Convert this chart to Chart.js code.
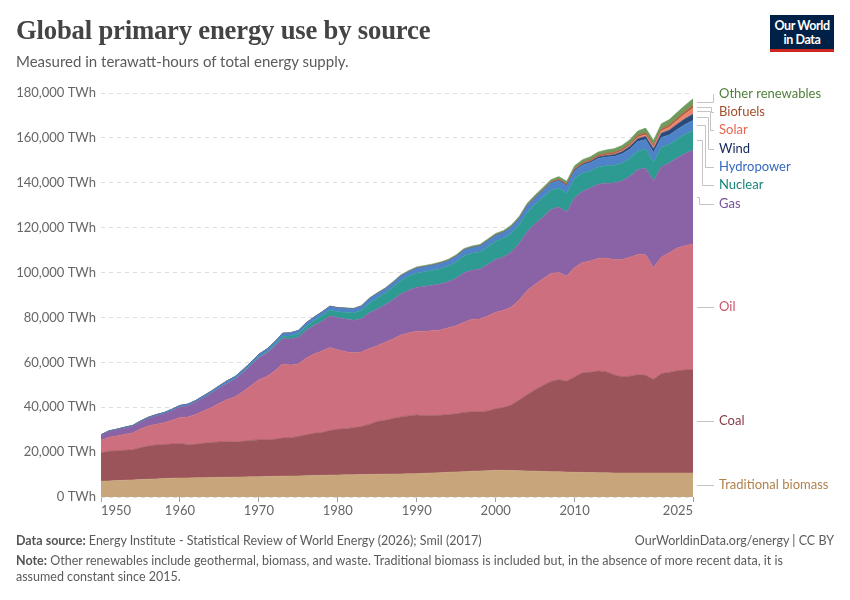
<!DOCTYPE html>
<html>
<head>
<meta charset="utf-8">
<script src="https://cdn.jsdelivr.net/npm/chart.js@4.4.1/dist/chart.umd.min.js"></script>
<style>
  html,body{margin:0;padding:0;background:#fff;}
  #wrap{position:relative;width:850px;height:600px;overflow:hidden;font-family:Lato,"Noto Sans",sans-serif;}
  canvas{position:absolute;left:0;top:0;}
  #title{position:absolute;left:16px;top:14px;font-family:"Liberation Serif",serif;font-weight:bold;font-size:26.7px;line-height:32px;color:#444;letter-spacing:-0.2px;}
  #subtitle{position:absolute;left:16px;top:51px;font-size:15px;line-height:20px;color:#5b5b5b;}
  #logo{position:absolute;left:770px;top:15px;width:64px;height:30px;background:#002147;border-bottom:3px solid #ce261e;color:#fff;text-align:center;font-size:12.5px;line-height:14px;font-weight:bold;padding-top:4px;box-sizing:content-box;}
  #logo div{letter-spacing:-0.4px;}
  .foot{position:absolute;font-size:12.5px;line-height:16px;color:#5b5b5b;}
  .foot b{font-weight:bold;color:#555;}
</style>
</head>
<body>
<div id="wrap">
  <canvas id="c" width="850" height="600"></canvas>
  <div id="title">Global primary energy use by source</div>
  <div id="subtitle">Measured in terawatt-hours of total energy supply.</div>
  <div id="logo"><div>Our World</div><div>in Data</div></div>
  <div class="foot" style="left:16px;top:533px;"><b>Data source:</b> Energy Institute - Statistical Review of World Energy (2026); Smil (2017)</div>
  <div class="foot" style="right:16px;top:533px;">OurWorldinData.org/energy | CC BY</div>
  <div class="foot" style="left:16px;top:553px;width:830px;"><b>Note:</b> Other renewables include geothermal, biomass, and waste. Traditional biomass is included but, in the absence of more recent data, it is<br>assumed constant since 2015.</div>
</div>
<script>
// ---------------- DATA (TWh), years 1950..2025 ----------------
const years = [];
for (let y = 1950; y <= 2025; y++) years.push(y);

const xTickYears = [1950, 1960, 1970, 1980, 1990, 2000, 2010, 2025];
const yTickValues = [0, 20000, 40000, 60000, 80000, 100000, 120000, 140000, 160000, 180000];

const traditionalBiomass = [
  7000, 7150, 7300, 7450, 7600, 7750, 7900, 8050, 8200, 8350,
  8450, 8500, 8560, 8620, 8680, 8740, 8800, 8860, 8920, 8980,
  9050, 9120, 9190, 9260, 9330, 9400, 9480, 9560, 9640, 9720,
  9800, 9860, 9920, 9980, 10040, 10100, 10160, 10220, 10280, 10340,
  10400, 10550, 10700, 10850, 11000, 11150, 11300, 11450, 11600, 11750,
  11900, 11850, 11800, 11700, 11600, 11500, 11400, 11300, 11200, 11100,
  11000, 10940, 10880, 10820, 10760, 10700, 10700, 10700, 10700, 10700,
  10700, 10700, 10700, 10700, 10700, 10700
];
const coal = [
  12600, 13200, 13200, 13400, 13400, 14200, 14800, 15100, 15200, 15300,
  15400, 14800, 14900, 15300, 15600, 15800, 15900, 15600, 15900, 16200,
  16400, 16300, 16500, 17000, 17000, 17600, 18200, 18800, 19100, 19900,
  20400, 20600, 20900, 21400, 22300, 23500, 24000, 24800, 25400, 25800,
  26100, 25700, 25600, 25600, 25700, 25900, 26400, 26500, 26300, 26600,
  27400, 28000, 29200, 31500, 34000, 36300, 38300, 40200, 41000, 40500,
  42500, 44400, 44700, 45300, 45100, 43700, 42900, 43100, 43800, 43500,
  41700, 44300, 44800, 45600, 45900, 46100
];
const oil = [
  5700, 6300, 6700, 7100, 7500, 8300, 8900, 9300, 9700, 10500,
  11600, 12300, 13300, 14400, 15600, 17200, 18700, 20200, 22200, 24400,
  26800, 28300, 30500, 33000, 32500, 32300, 34200, 35300, 36300, 37000,
  35400, 34300, 33400, 33200, 33800, 33800, 34800, 35400, 36500, 37000,
  37400, 37500, 37900, 38000, 38700, 39300, 40200, 41200, 41400, 42300,
  43000, 43300, 43700, 44700, 46400, 47000, 47500, 48100, 47800, 46900,
  48800, 49100, 49600, 50200, 50600, 51400, 52200, 53000, 53500, 53700,
  49800, 51900, 53300, 54600, 55300, 55900
];
const gas = [
  2100, 2400, 2600, 2700, 2900, 3100, 3400, 3700, 3900, 4300,
  4600, 5000, 5400, 5900, 6400, 6800, 7300, 7800, 8400, 9100,
  9800, 10400, 10900, 11400, 11600, 11800, 12400, 12800, 13300, 14100,
  14300, 14500, 14500, 14800, 15900, 16400, 16600, 17500, 18300, 19000,
  19600, 20000, 20100, 20400, 20500, 21100, 22000, 21900, 22200, 22900,
  23500, 23800, 24500, 25200, 26200, 26900, 27500, 28500, 29200, 28500,
  31000, 31700, 32500, 33000, 33300, 34100, 35000, 36000, 37900, 38600,
  38600, 40400, 40000, 40200, 41100, 41800
];
const nuclear = [
  0, 0, 0, 0, 0, 0, 2, 5, 10, 15,
  25, 35, 50, 70, 90, 120, 150, 190, 240, 300,
  370, 520, 700, 950, 1250, 1600, 1850, 2150, 2450, 2550,
  2650, 3050, 3300, 3750, 4400, 4900, 5200, 5600, 6000, 6200,
  6300, 6600, 6700, 6900, 7000, 7300, 7600, 7500, 7700, 8000,
  8100, 8300, 8400, 8300, 8700, 8700, 8800, 8600, 8500, 8400,
  8600, 8200, 7600, 7700, 7800, 7900, 8000, 8100, 8300, 8500,
  8300, 8600, 8200, 8400, 8600, 8800
];
const hydropower = [
  340, 370, 390, 410, 440, 470, 510, 540, 590, 630,
  690, 720, 760, 800, 840, 900, 960, 990, 1030, 1090,
  1150, 1200, 1250, 1300, 1400, 1430, 1450, 1480, 1580, 1660,
  1700, 1720, 1760, 1830, 1890, 1930, 1950, 1970, 2020, 2030,
  2150, 2200, 2200, 2300, 2330, 2450, 2500, 2540, 2560, 2580,
  2650, 2600, 2650, 2670, 2820, 2920, 3020, 3060, 3210, 3230,
  3430, 3500, 3660, 3790, 3880, 3880, 4030, 4070, 4190, 4230,
  4350, 4300, 4330, 4240, 4400, 4450
];
const wind = [
  0, 0, 0, 0, 0, 0, 0, 0, 0, 0,
  0, 0, 0, 0, 0, 0, 0, 0, 0, 0,
  0, 0, 0, 0, 0, 0, 0, 0, 0, 0,
  0, 0, 0, 0, 0, 0, 1, 1, 2, 3,
  4, 4, 5, 6, 7, 8, 10, 12, 16, 21,
  31, 38, 52, 63, 85, 104, 133, 171, 220, 277,
  342, 437, 523, 640, 713, 831, 962, 1140, 1270, 1420,
  1600, 1850, 2100, 2330, 2500, 2750
];
const solar = [
  0, 0, 0, 0, 0, 0, 0, 0, 0, 0,
  0, 0, 0, 0, 0, 0, 0, 0, 0, 0,
  0, 0, 0, 0, 0, 0, 0, 0, 0, 0,
  0, 0, 0, 0, 0, 0, 0, 0, 0, 0,
  0, 0, 0, 0, 1, 1, 1, 1, 1, 1,
  1, 2, 2, 3, 3, 4, 6, 8, 12, 20,
  32, 63, 99, 136, 192, 256, 328, 445, 575, 704,
  850, 1030, 1300, 1640, 2130, 2750
];
const biofuels = [
  0, 0, 0, 0, 0, 0, 0, 0, 0, 0,
  0, 0, 0, 0, 0, 0, 0, 0, 0, 0,
  0, 0, 0, 0, 0, 5, 10, 15, 20, 25,
  30, 35, 40, 45, 55, 60, 65, 70, 70, 75,
  80, 80, 80, 85, 85, 90, 95, 95, 100, 105,
  110, 120, 140, 170, 200, 240, 320, 420, 540, 600,
  680, 690, 690, 740, 800, 820, 850, 890, 970, 1040,
  960, 1030, 1100, 1180, 1240, 1250
];
const otherRenewables = [
  20, 22, 24, 26, 28, 30, 32, 35, 38, 40,
  42, 45, 48, 52, 56, 60, 65, 70, 76, 82,
  90, 98, 106, 114, 122, 130, 140, 150, 165, 180,
  200, 220, 240, 265, 290, 320, 350, 380, 410, 450,
  490, 510, 530, 550, 570, 600, 620, 640, 660, 690,
  720, 740, 780, 820, 860, 900, 950, 1000, 1060, 1120,
  1200, 1260, 1340, 1420, 1500, 1580, 1660, 1760, 1860, 1960,
  2060, 2200, 2340, 2500, 2700, 2900
];

// ---------------- SERIES (bottom -> top) ----------------
const series = [
  { name: 'Traditional biomass', values: traditionalBiomass, fill: '#c8a57b', text: '#b0814c' },
  { name: 'Coal',               values: coal,               fill: '#9c545b', text: '#883a43' },
  { name: 'Oil',                values: oil,                fill: '#cd6f7e', text: '#c65466' },
  { name: 'Gas',                values: gas,                fill: '#8963a5', text: '#74519a' },
  { name: 'Nuclear',            values: nuclear,            fill: '#2e9b93', text: '#178479' },
  { name: 'Hydropower',         values: hydropower,         fill: '#4f83c8', text: '#3469bd' },
  { name: 'Wind',               values: wind,               fill: '#2a4a7a', text: '#15295a' },
  { name: 'Solar',              values: solar,              fill: '#ea846f', text: '#e8664f' },
  { name: 'Biofuels',           values: biofuels,           fill: '#b0603f', text: '#a2502f' },
  { name: 'Other renewables',   values: otherRenewables,    fill: '#6f9b5e', text: '#4f7f3a' }
];

// stacked label positions for the crowded top group (label text y, connector bend x)
const crowdedLayout = {
  'Other renewables': { y: 94,  bend: 713 },
  'Biofuels':         { y: 112, bend: 711 },
  'Solar':            { y: 130, bend: 710 },
  'Wind':             { y: 149, bend: 708 },
  'Hydropower':       { y: 167, bend: 705 },
  'Nuclear':          { y: 185, bend: 702 },
  'Gas':              { y: 204, bend: 699 }
};

const datasets = series.map((s, i) => ({
  label: s.name,
  data: years.map((yr, k) => ({ x: yr, y: s.values[k] })),
  backgroundColor: s.fill,
  borderColor: s.fill,
  borderWidth: 0.6,
  fill: i === 0 ? 'origin' : '-1',
  pointRadius: 0,
  tension: 0
}));

const labelPlugin = {
  id: 'endLabels',
  afterDatasetsDraw(chart) {
    const ctx = chart.ctx;
    const area = chart.chartArea;
    const yScale = chart.scales.y;
    ctx.save();
    ctx.font = '13px Lato, "Noto Sans", sans-serif';
    ctx.textBaseline = 'middle';
    ctx.textAlign = 'left';
    let prevTop = yScale.getPixelForValue(0);
    series.forEach((s, i) => {
      const meta = chart.getDatasetMeta(i);
      const last = meta.data[meta.data.length - 1];
      const top = last.y;
      const mid = (top + prevTop) / 2;
      prevTop = top;
      const x0 = area.right + 4;
      const xEnd = area.right + 21;
      const lay = crowdedLayout[s.name];
      ctx.strokeStyle = '#c4c4c4';
      ctx.lineWidth = 1;
      ctx.beginPath();
      let ly = mid;
      if (lay) {
        ly = lay.y;
        ctx.moveTo(x0, Math.round(mid) + 0.5);
        ctx.lineTo(lay.bend + 0.5, Math.round(mid) + 0.5);
        ctx.lineTo(lay.bend + 0.5, Math.round(ly) + 0.5);
        ctx.lineTo(xEnd, Math.round(ly) + 0.5);
      } else {
        ctx.moveTo(x0, Math.round(mid) + 0.5);
        ctx.lineTo(xEnd, Math.round(mid) + 0.5);
      }
      ctx.stroke();
      ctx.fillStyle = s.text;
      ctx.fillText(s.name, xEnd + 5, ly);
    });
    ctx.restore();
  }
};

new Chart(document.getElementById('c'), {
  type: 'line',
  data: { datasets },
  plugins: [labelPlugin],
  options: {
    responsive: false,
    animation: false,
    devicePixelRatio: 1,
    layout: { padding: { top: 93, right: 157, bottom: 0, left: 0 } },
    plugins: { legend: { display: false }, tooltip: { enabled: false }, title: { display: false } },
    elements: { line: { tension: 0 }, point: { radius: 0 } },
    scales: {
      x: {
        type: 'linear',
        min: 1950,
        max: 2025,
        afterBuildTicks: (scale) => { scale.ticks = xTickYears.map(v => ({ value: v })); },
        afterFit: (scale) => { scale.height = 103; },
        ticks: {
          align: 'inner',
          autoSkip: false,
          maxRotation: 0,
          padding: 1,
          color: '#666',
          font: { family: 'Lato', size: 13 },
          callback: (v) => String(v)
        },
        grid: { drawOnChartArea: false, drawTicks: true, tickLength: 5, color: '#a0a0a0' },
        border: { display: false }
      },
      y: {
        stacked: true,
        min: 0,
        max: 180000,
        afterBuildTicks: (scale) => { scale.ticks = yTickValues.map(v => ({ value: v })); },
        afterFit: (scale) => { scale.width = 101; },
        ticks: {
          padding: 5,
          color: '#666',
          font: { family: 'Lato', size: 13 },
          callback: (v) => v.toLocaleString('en-US') + ' TWh'
        },
        grid: { color: '#dddddd', drawTicks: false, lineWidth: 1 },
        border: { display: false, dash: [4, 4] }
      }
    }
  }
});
</script>
</body>
</html>
